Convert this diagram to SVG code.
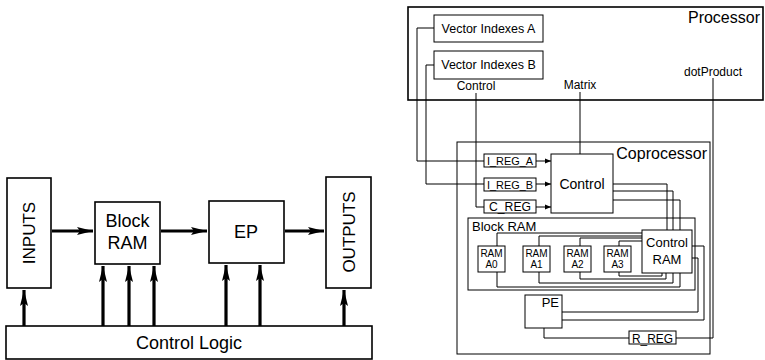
<svg xmlns="http://www.w3.org/2000/svg" width="765" height="360" viewBox="0 0 765 360">
<style>
.box{fill:#fff;stroke:#000;stroke-width:1.6}
.thin{fill:#fff;stroke:#000;stroke-width:1}
.t{font-family:"Liberation Sans",Arial,sans-serif;fill:#000}
.w{fill:none;stroke:#000;stroke-width:1}
.thick{fill:none;stroke:#000;stroke-width:3.2}
</style>
<defs>
<marker id="big" viewBox="0 0 16 8" refX="16" refY="4" markerWidth="16" markerHeight="8" markerUnits="userSpaceOnUse" orient="auto">
<path d="M0,0 L16,4 L0,8 L3,4 Z" fill="#000"/>
</marker>
<marker id="sm" viewBox="0 0 6 6" refX="6" refY="3" markerWidth="6" markerHeight="6" markerUnits="userSpaceOnUse" orient="auto">
<path d="M0,0.5 L6,3 L0,5.5 Z" fill="#000"/>
</marker>
</defs>

<!-- Left diagram -->
<g id="inputs"><rect class="box" x="7" y="178" width="44" height="110"/><text class="t" font-size="17" text-anchor="middle" transform="translate(35,233) rotate(-90)">INPUTS</text></g>
<g id="blockram"><rect class="box" x="95" y="202" width="65" height="62"/><text class="t" font-size="18" text-anchor="middle" x="127.5" y="227">Block</text><text class="t" font-size="18" text-anchor="middle" x="127.5" y="249">RAM</text></g>
<g id="ep"><rect class="box" x="209" y="201" width="75" height="62"/><text class="t" font-size="18" text-anchor="middle" x="246" y="238">EP</text></g>
<g id="outputs"><rect class="box" x="326" y="177" width="45" height="111"/><text class="t" font-size="17" text-anchor="middle" transform="translate(355,232) rotate(-90)">OUTPUTS</text></g>
<g id="controllogic"><rect class="box" x="6" y="326" width="366" height="33"/><text class="t" font-size="18" text-anchor="middle" x="189" y="349">Control Logic</text></g>
<g id="left-connectors">
<path class="thick" d="M52,231 H93" marker-end="url(#big)"/>
<path class="thick" d="M161,231 H207" marker-end="url(#big)"/>
<path class="thick" d="M285,231 H324" marker-end="url(#big)"/>
<path class="thick" d="M24,326 V290" marker-end="url(#big)"/>
<path class="thick" d="M103,326 V266" marker-end="url(#big)"/>
<path class="thick" d="M129,326 V266" marker-end="url(#big)"/>
<path class="thick" d="M154,326 V266" marker-end="url(#big)"/>
<path class="thick" d="M226,326 V265" marker-end="url(#big)"/>
<path class="thick" d="M260,326 V265" marker-end="url(#big)"/>
<path class="thick" d="M344,326 V290" marker-end="url(#big)"/>
</g>

<!-- Right diagram -->
<g id="processor"><rect class="box" x="408" y="7" width="355" height="93" stroke-width="2"/><text class="t" font-size="16" text-anchor="end" x="760" y="23">Processor</text>
<text class="t" font-size="12" text-anchor="middle" x="476" y="90">Control</text>
<text class="t" font-size="12" text-anchor="middle" x="580" y="89">Matrix</text>
<text class="t" font-size="12" text-anchor="middle" x="713" y="76">dotProduct</text></g>
<g id="vecA"><rect class="thin" x="434" y="15" width="109" height="27"/><text class="t" font-size="12.5" text-anchor="middle" x="488.5" y="33">Vector Indexes A</text></g>
<g id="vecB"><rect class="thin" x="434" y="51" width="109" height="28"/><text class="t" font-size="12.5" text-anchor="middle" x="488.5" y="69">Vector Indexes B</text></g>
<g id="coprocessor"><rect class="thin" x="457" y="142" width="253" height="212" stroke-width="1.3"/><text class="t" font-size="16" text-anchor="end" x="707" y="159">Coprocessor</text></g>
<g id="blockram2"><rect class="thin" x="468" y="218" width="227" height="72" fill="none"/><text class="t" font-size="13" x="472" y="231">Block RAM</text></g>
<g id="iregA"><rect class="thin" x="484" y="154" width="52" height="13"/><text class="t" font-size="11" text-anchor="middle" x="510" y="165" textLength="46" lengthAdjust="spacingAndGlyphs">I_REG_A</text></g>
<g id="iregB"><rect class="thin" x="484" y="178" width="52" height="13"/><text class="t" font-size="11" text-anchor="middle" x="510" y="189" textLength="46" lengthAdjust="spacingAndGlyphs">I_REG_B</text></g>
<g id="creg"><rect class="thin" x="484" y="200" width="52" height="13"/><text class="t" font-size="12" text-anchor="middle" x="510" y="211" textLength="42" lengthAdjust="spacingAndGlyphs">C_REG</text></g>
<g id="control"><rect class="thin" x="551" y="154" width="62" height="59"/><text class="t" font-size="14" text-anchor="middle" x="582" y="189">Control</text></g>
<g id="ramA0"><rect class="thin" x="478" y="246" width="27" height="26"/><text class="t" font-size="10" text-anchor="middle" x="491.5" y="257">RAM</text><text class="t" font-size="10" text-anchor="middle" x="491.5" y="268">A0</text></g>
<g id="ramA1"><rect class="thin" x="523" y="246" width="27" height="26"/><text class="t" font-size="10" text-anchor="middle" x="536.5" y="257">RAM</text><text class="t" font-size="10" text-anchor="middle" x="536.5" y="268">A1</text></g>
<g id="ramA2"><rect class="thin" x="564" y="246" width="27" height="26"/><text class="t" font-size="10" text-anchor="middle" x="577.5" y="257">RAM</text><text class="t" font-size="10" text-anchor="middle" x="577.5" y="268">A2</text></g>
<g id="ramA3"><rect class="thin" x="604" y="246" width="27" height="26"/><text class="t" font-size="10" text-anchor="middle" x="617.5" y="257">RAM</text><text class="t" font-size="10" text-anchor="middle" x="617.5" y="268">A3</text></g>
<g id="controlram"><rect class="thin" x="642" y="230" width="50" height="43"/><text class="t" font-size="13" text-anchor="middle" x="667" y="247">Control</text><text class="t" font-size="13" text-anchor="middle" x="667" y="264">RAM</text></g>
<g id="pe"><rect class="thin" x="525" y="295" width="37" height="33"/><text class="t" font-size="13" text-anchor="end" x="559" y="307">PE</text></g>
<g id="rreg"><rect class="thin" x="629" y="331" width="47" height="13"/><text class="t" font-size="13" text-anchor="middle" x="652.5" y="343" textLength="41" lengthAdjust="spacingAndGlyphs">R_REG</text></g>

<g id="right-connectors">
<path class="w" d="M434,28 H417 V161 H484"/>
<path class="w" d="M434,65 H426 V184 H484"/>
<path class="w" d="M476,93 V207 H484"/>
<path class="w" d="M580,92 V154"/>
<path class="w" d="M536,161 H551" marker-end="url(#sm)"/>
<path class="w" d="M536,184 H551" marker-end="url(#sm)"/>
<path class="w" d="M536,207 H551" marker-end="url(#sm)"/>
<path class="w" d="M613,184 H667 V230"/>
<path class="w" d="M613,191 H673 V230"/>
<path class="w" d="M613,200 H680 V230"/>
<path class="w" d="M497,246 V233 H642"/>
<path class="w" d="M539,246 V236 H642"/>
<path class="w" d="M580,246 V238 H642"/>
<path class="w" d="M619,246 V241 H642"/>
<path class="w" d="M497,272 V287 H680 V273"/>
<path class="w" d="M539,272 V283 H673 V273"/>
<path class="w" d="M580,272 V279 H666 V273"/>
<path class="w" d="M619,272 V276 H662 V273"/>
<path class="w" d="M692,258 H698 V312 H562"/>
<path class="w" d="M692,246 H704 V320 H562"/>
<path class="w" d="M713,78 V338 H676"/>
<path class="w" d="M629,338 H544 V328"/>
</g>
</svg>
